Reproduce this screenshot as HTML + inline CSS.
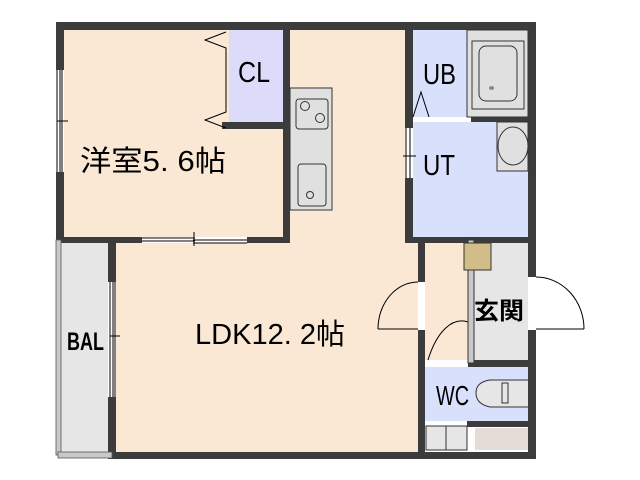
<!DOCTYPE html>
<html><head><meta charset="utf-8"><style>html,body{margin:0;padding:0;background:#fff}svg{display:block}</style></head>
<body>
<svg width="640" height="480" viewBox="0 0 640 480" xmlns="http://www.w3.org/2000/svg" font-family="'Liberation Sans','Noto Sans CJK JP',sans-serif">
<rect x="56" y="22" width="480" height="437" fill="#fff"/>
<rect x="64" y="30" width="222" height="210" fill="#fae8d4"/>
<rect x="229" y="30" width="54" height="93" fill="#dcdcfa"/>
<rect x="286" y="30" width="122" height="425" fill="#fae8d4"/>
<rect x="112" y="240" width="310" height="215" fill="#fae8d4"/>
<rect x="413" y="30" width="115" height="207" fill="#d8e0fc"/>
<rect x="425" y="243" width="45" height="117" fill="#fae8d4"/>
<rect x="474" y="243" width="54" height="117" fill="#e6e6e6"/>
<rect x="425" y="367" width="103" height="54" fill="#d8e0fc"/>
<rect x="56" y="240" width="52" height="215" fill="#e6e6e6"/>
<g fill="#3c3c3c">
<rect x="56" y="22" width="480" height="8"/>
<rect x="56" y="22" width="8" height="221"/>
<rect x="283" y="22" width="7" height="221"/>
<rect x="222" y="122" width="68" height="7"/>
<rect x="56" y="237" width="234" height="6"/>
<rect x="405" y="22" width="8" height="221"/>
<rect x="528" y="22" width="8" height="437"/>
<rect x="471" y="117" width="65" height="5"/>
<rect x="405" y="237" width="131" height="6"/>
<rect x="108" y="237" width="8" height="222"/>
<rect x="108" y="452" width="428" height="7"/>
<rect x="418" y="237" width="7" height="222"/>
<rect x="468" y="360" width="68" height="7"/>
<rect x="467" y="421" width="69" height="6"/>
</g>
<g fill="#fff">
<rect x="56" y="70" width="8" height="102"/>
<rect x="142" y="237" width="105" height="6"/>
<rect x="413" y="117" width="58" height="5"/>
<rect x="405" y="128" width="8" height="50"/>
<rect x="108" y="282" width="8" height="115"/>
<rect x="418" y="282" width="7" height="48"/>
<rect x="528" y="277" width="8" height="53"/>
<rect x="425" y="360" width="43" height="7"/>
</g>
<g fill="none" stroke="#000" stroke-width="1">
<line x1="57" y1="70" x2="57" y2="172"/><line x1="60" y1="70" x2="60" y2="172"/><line x1="62" y1="70" x2="62" y2="172"/>
<line x1="57" y1="121" x2="68" y2="121"/>
<line x1="142" y1="238" x2="195" y2="238"/><line x1="142" y1="241" x2="195" y2="241"/>
<line x1="193" y1="240" x2="247" y2="240"/><line x1="193" y1="243" x2="247" y2="243"/>
<line x1="194" y1="232" x2="194" y2="246"/>
<line x1="110" y1="282" x2="110" y2="397"/><line x1="113" y1="282" x2="113" y2="397"/><line x1="115" y1="282" x2="115" y2="397"/>
<line x1="110" y1="336" x2="120" y2="336"/>
<line x1="406" y1="128" x2="406" y2="178"/><line x1="410" y1="128" x2="410" y2="178"/>
<line x1="403" y1="156" x2="416" y2="156"/>
<polyline points="226,32 205,40 226,48 226,112 205,120 226,128"/>
<polyline points="413,117 421,92 429,117"/>
<line x1="378" y1="329" x2="418" y2="329"/>
<path d="M378,329 A40,47 0 0 1 418,282"/>
<line x1="536" y1="329" x2="584" y2="329"/>
<path d="M536,277 A48,52 0 0 1 584,329"/>
<path d="M428,360 A40,85 0 0 1 468,322"/>
</g>
<rect x="290" y="88" width="42" height="122" fill="#e0e0e0" stroke="#333"/>
<rect x="296" y="99" width="32" height="30" rx="3" fill="#e0e0e0" stroke="#333"/>
<circle cx="305" cy="106" r="4.5" fill="none" stroke="#333"/><circle cx="320" cy="118" r="4.5" fill="none" stroke="#333"/>
<rect x="298" y="164" width="28" height="42" rx="3" fill="#e0e0e0" stroke="#333"/>
<circle cx="310" cy="195" r="3.5" fill="none" stroke="#333"/>
<rect x="467" y="30" width="61" height="87" fill="#e0e0e0" stroke="#333"/>
<rect x="472" y="41" width="52" height="68" fill="#e0e0e0" stroke="#333"/>
<rect x="479" y="46" width="38" height="55" rx="7" fill="#e0e0e0" stroke="#333"/>
<rect x="490" y="87" width="3" height="2" fill="none" stroke="#333" stroke-width="0.8"/>
<rect x="497" y="122" width="31" height="49" fill="#e0e0e0" stroke="#333"/>
<ellipse cx="513" cy="146" rx="15" ry="19" fill="#e0e0e0" stroke="#333"/>
<rect x="468" y="240" width="6" height="123" fill="#c8c8c8" stroke="#333"/>
<rect x="464" y="243" width="27" height="27" fill="#d2bd88" stroke="#333"/>
<path d="M528,380 L490,380 Q476,382 476,393 Q476,404 490,407 L528,407" fill="#e6e6e6" stroke="#333"/>
<rect x="502" y="383" width="6" height="20" fill="#e6e6e6" stroke="#333"/>
<rect x="426" y="426" width="20" height="24" fill="#e6e6e6" stroke="#333"/>
<rect x="446" y="426" width="21" height="24" fill="#e6e6e6" stroke="#333"/>
<rect x="475" y="428" width="53" height="22" fill="#e4dcd6"/>
<rect x="56" y="240" width="5" height="215" fill="#c8c8c8" stroke="#555" stroke-width="0.8"/>
<rect x="58" y="452" width="54" height="6" fill="#c8c8c8" stroke="#555" stroke-width="0.8"/>
<g fill="#000">
<text x="80" y="171" font-size="29" textLength="146" lengthAdjust="spacingAndGlyphs">洋室5. 6帖</text>
<text x="238" y="82" font-size="29" textLength="32" lengthAdjust="spacingAndGlyphs">CL</text>
<text x="423" y="84" font-size="29" textLength="33" lengthAdjust="spacingAndGlyphs">UB</text>
<text x="423" y="175" font-size="29" textLength="32" lengthAdjust="spacingAndGlyphs">UT</text>
<text x="195" y="344" font-size="29" textLength="150" lengthAdjust="spacingAndGlyphs">LDK12. 2帖</text>
<text x="67" y="350" font-size="25" font-weight="bold" textLength="37" lengthAdjust="spacingAndGlyphs">BAL</text>
<text x="474" y="319" font-size="24" font-weight="bold" textLength="50" lengthAdjust="spacingAndGlyphs">玄関</text>
<text x="436" y="405" font-size="28" textLength="33" lengthAdjust="spacingAndGlyphs">WC</text>
</g>
</svg>
</body></html>
